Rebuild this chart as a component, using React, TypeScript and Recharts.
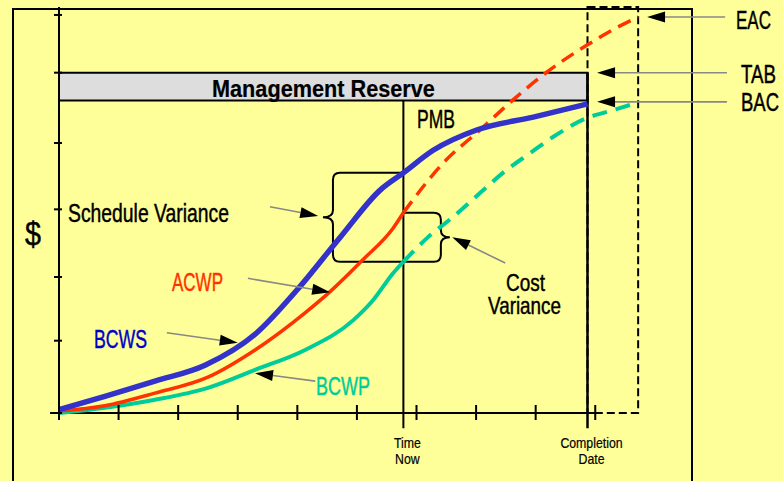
import { ComposedChart, Line, ReferenceArea, ReferenceLine, XAxis, YAxis } from "recharts";

type Pt = { t: number; v: number };

// time in reporting periods, value in $ (arbitrary units)
const TIME_NOW = 5.78;
const COMPLETION = 8.87;
const EAC_DATE = 9.72;
const Y_MAX = 6.12;

const BCWS: Pt[] = [
  { t: 0, v: 0.05 }, { t: 0.77, v: 0.25 }, { t: 1.61, v: 0.48 }, { t: 2.45, v: 0.72 },
  { t: 3.32, v: 1.21 }, { t: 3.99, v: 1.85 }, { t: 4.72, v: 2.65 }, { t: 5.39, v: 3.36 },
  { t: 5.78, v: 3.62 }, { t: 6.28, v: 3.96 }, { t: 7.02, v: 4.27 }, { t: 7.96, v: 4.46 },
  { t: 8.87, v: 4.66 },
];

const ACWP: Pt[] = [
  { t: 0, v: 0.03 }, { t: 0.77, v: 0.11 }, { t: 1.61, v: 0.3 }, { t: 2.5, v: 0.54 },
  { t: 3.29, v: 0.95 }, { t: 4.13, v: 1.51 }, { t: 4.55, v: 1.83 }, { t: 5.1, v: 2.31 },
  { t: 5.61, v: 2.79 }, { t: 5.78, v: 3.02 },
];

const ACWP_FORECAST: Pt[] = [
  { t: 5.78, v: 3.02 }, { t: 6.45, v: 3.77 }, { t: 7.07, v: 4.27 }, { t: 7.62, v: 4.72 },
  { t: 8.19, v: 5.14 }, { t: 8.87, v: 5.55 }, { t: 9.3, v: 5.78 }, { t: 9.72, v: 5.97 },
];

const BCWP: Pt[] = [
  { t: 0, v: 0 }, { t: 0.77, v: 0.08 }, { t: 1.61, v: 0.2 }, { t: 2.5, v: 0.38 },
  { t: 3.29, v: 0.65 }, { t: 4.13, v: 0.95 }, { t: 4.94, v: 1.4 }, { t: 5.27, v: 1.7 },
  { t: 5.61, v: 2.11 }, { t: 5.78, v: 2.28 },
];

const BCWP_FORECAST: Pt[] = [
  { t: 5.78, v: 2.28 }, { t: 6.18, v: 2.64 }, { t: 6.62, v: 2.96 }, { t: 7.07, v: 3.32 },
  { t: 7.45, v: 3.62 }, { t: 7.91, v: 3.92 }, { t: 8.29, v: 4.16 }, { t: 8.87, v: 4.45 },
  { t: 9.2, v: 4.54 }, { t: 9.72, v: 4.68 },
];

const TAB = 5.13;
const PMB_TOP = 4.71;
const BAC_MARK = 4.69;

const X_TICKS = [0, 1, 2, 3, 4, 5, 6, 7, 8, 9];
const Y_TICKS = [0, 1.09, 2.05, 3.07, 4.07, 5.13, 6];
const DATE_LABELS: Record<string, string[]> = {
  [TIME_NOW]: ["Time", "Now"],
  [COMPLETION]: ["Completion", "Date"],
};

const FONT = "'Liberation Sans', Arial, sans-serif";
const AXIS_DROP = -0.23;

const at = (s: Pt[], t: number) => s.find((p) => p.t === t)!.v;

let ctx: CanvasRenderingContext2D | null = null;
function measure(text: string, size: number, weight: string) {
  if (!ctx) ctx = document.createElement("canvas").getContext("2d");
  if (!ctx) return text.length * size * 0.55;
  ctx.font = `${weight} ${size}px ${FONT}`;
  return ctx.measureText(text).width;
}

function XTick({ x, y, payload }: any) {
  const lines = DATE_LABELS[String(payload.value)];
  if (lines) {
    return (
      <g fontFamily={FONT} fontSize={14} fill="#000" stroke="#000" strokeWidth={0.2}>
        {lines.map((s, i) => (
          <text key={s} transform={`translate(${x + 4},${y + 35 + i * 16}) scale(0.88,1)`} textAnchor="middle">
            {s}
          </text>
        ))}
      </g>
    );
  }
  return <line x1={x} x2={x} y1={y - 8} y2={y + 7} stroke="#000" strokeWidth={2} />;
}

function YTick({ x, y }: any) {
  return <line x1={x - 5} x2={x + 3} y1={y} y2={y} stroke="#000" strokeWidth={2} />;
}

function Arrow({ x1, y1, x2, y2 }: any) {
  const len = Math.hypot(x2 - x1, y2 - y1) || 1;
  const ux = (x2 - x1) / len;
  const uy = (y2 - y1) / len;
  const bx = x2 - ux * 18;
  const by = y2 - uy * 18;
  const px = -uy * 5.5;
  const py = ux * 5.5;
  return (
    <g>
      <line x1={x1} y1={y1} x2={bx} y2={by} stroke="#888" strokeWidth={1.6} />
      <polygon points={`${x2},${y2} ${bx + px},${by + py} ${bx - px},${by - py}`} fill="#000" />
    </g>
  );
}

function LeftBrace({ x, y, width, height }: any) {
  const xv = x + 10;
  const r = 7;
  const m = y + height / 2;
  const R = x + width;
  const B = y + height;
  const d = `M${R},${y} H${xv + r} Q${xv},${y} ${xv},${y + r} V${m - r} Q${xv},${m} ${x},${m} Q${xv},${m} ${xv},${m + r} V${B - r} Q${xv},${B} ${xv + r},${B} H${R}`;
  return <path d={d} fill="none" stroke="#000" strokeWidth={2} />;
}

function RightBrace({ x, y, width, height }: any) {
  const R = x + width;
  const xv = R - 9;
  const r = 7;
  const m = y + height / 2;
  const B = y + height;
  const d = `M${x},${y} H${xv - r} Q${xv},${y} ${xv},${y + r} V${m - r} Q${xv},${m} ${R},${m} Q${xv},${m} ${xv},${m + r} V${B - r} Q${xv},${B} ${xv - r},${B} H${x}`;
  return <path d={d} fill="none" stroke="#000" strokeWidth={2} />;
}

// narrow lettering as on the slide: squeeze each label to its measured width
function Note({ x, y, w, text, color = "#000", size = 25, weight = "normal" }: any) {
  const sx = w / measure(text, size, weight);
  return (
    <text
      transform={`translate(${x},${y}) scale(${sx.toFixed(3)},1)`}
      fill={color}
      stroke={color}
      strokeWidth={weight === "bold" ? 0.2 : 0.45}
      fontSize={size}
      fontWeight={weight}
      fontFamily={FONT}
    >
      {text}
    </text>
  );
}

export default function App() {
  const eac = ACWP_FORECAST[ACWP_FORECAST.length - 1].v;
  const bcwsNow = at(BCWS, TIME_NOW);
  const acwpNow = at(ACWP, TIME_NOW);
  const bcwpNow = at(BCWP, TIME_NOW);

  return (
    <div style={{ position: "absolute", left: 0, top: 0, width: 783, height: 481, background: "#FFFF99", overflow: "hidden" }}>
      <div
        style={{ position: "absolute", left: 12, top: 8, width: 681, height: 540, border: "2px solid #000", boxSizing: "border-box" }}
      />
      <div style={{ position: "absolute", left: 0, top: 0 }}>
        <ComposedChart width={783} height={481} margin={{ top: 7, right: 9, bottom: 0, left: 0 }}>
          <XAxis
            type="number"
            dataKey="t"
            domain={[0, 12]}
            ticks={[...X_TICKS, TIME_NOW, COMPLETION].sort((a, b) => a - b)}
            interval={0}
            axisLine={false}
            tickLine={false}
            tickSize={0}
            tickMargin={0}
            height={68}
            tick={<XTick />}
          />
          <YAxis
            type="number"
            domain={[0, Y_MAX]}
            ticks={Y_TICKS}
            interval={0}
            width={59}
            axisLine={{ stroke: "#000", strokeWidth: 2 }}
            tickLine={false}
            tickSize={0}
            tickMargin={0}
            tick={<YTick />}
          />

          <ReferenceArea x1={0} x2={COMPLETION} y1={PMB_TOP} y2={TAB} fill="#DDDDDD" fillOpacity={1} stroke="#000" strokeWidth={2} ifOverflow="visible" />
          <ReferenceArea x1={COMPLETION} x2={EAC_DATE} y1={0} y2={Y_MAX} fill="none" stroke="#000" strokeWidth={2} strokeDasharray="8 4" ifOverflow="visible" />

          <ReferenceLine segment={[{ x: -0.15, y: 0 }, { x: 9, y: 0 }]} stroke="#000" strokeWidth={2} ifOverflow="visible" />
          <ReferenceLine segment={[{ x: TIME_NOW, y: AXIS_DROP }, { x: TIME_NOW, y: PMB_TOP }]} stroke="#000" strokeWidth={2} ifOverflow="visible" />
          <ReferenceLine segment={[{ x: COMPLETION, y: AXIS_DROP }, { x: COMPLETION, y: TAB }]} stroke="#000" strokeWidth={2.5} ifOverflow="visible" />

          <ReferenceArea x1={4.43} x2={TIME_NOW} y1={bcwpNow} y2={bcwsNow} shape={LeftBrace} ifOverflow="visible" />
          <ReferenceArea x1={TIME_NOW} x2={6.56} y1={bcwpNow} y2={acwpNow} shape={RightBrace} ifOverflow="visible" />

          <Line data={BCWP} dataKey="v" type="monotone" stroke="#00CC99" strokeWidth={4} dot={false} isAnimationActive={false} />
          <Line data={BCWP_FORECAST} dataKey="v" type="monotone" stroke="#00CC99" strokeWidth={4} strokeDasharray="15 9" dot={false} isAnimationActive={false} />
          <Line data={ACWP} dataKey="v" type="monotone" stroke="#FF3300" strokeWidth={3.5} dot={false} isAnimationActive={false} />
          <Line data={ACWP_FORECAST} dataKey="v" type="monotone" stroke="#FF3300" strokeWidth={3.5} strokeDasharray="14 8" dot={false} isAnimationActive={false} />
          <Line data={BCWS} dataKey="v" type="monotone" stroke="#3333CC" strokeWidth={5.5} dot={false} isAnimationActive={false} />

          <ReferenceLine segment={[{ x: 11.18, y: eac }, { x: 9.87, y: eac }]} shape={Arrow} ifOverflow="visible" />
          <ReferenceLine segment={[{ x: 11.21, y: TAB }, { x: 9.03, y: TAB }]} shape={Arrow} ifOverflow="visible" />
          <ReferenceLine segment={[{ x: 11.21, y: BAC_MARK }, { x: 9.03, y: BAC_MARK }]} shape={Arrow} ifOverflow="visible" />
          <ReferenceLine segment={[{ x: 3.54, y: 3.11 }, { x: 4.35, y: 2.97 }]} shape={Arrow} ifOverflow="visible" />
          <ReferenceLine segment={[{ x: 3.17, y: 2.03 }, { x: 4.55, y: 1.82 }]} shape={Arrow} ifOverflow="visible" />
          <ReferenceLine segment={[{ x: 1.81, y: 1.21 }, { x: 3.0, y: 1.06 }]} shape={Arrow} ifOverflow="visible" />
          <ReferenceLine segment={[{ x: 4.3, y: 0.48 }, { x: 3.29, y: 0.6 }]} shape={Arrow} ifOverflow="visible" />
          <ReferenceLine segment={[{ x: 7.49, y: 2.26 }, { x: 6.6, y: 2.65 }]} shape={Arrow} ifOverflow="visible" />
        </ComposedChart>
      </div>
      <svg width={783} height={481} style={{ position: "absolute", left: 0, top: 0, pointerEvents: "none" }}>
        <Note x={212} y={97} w={223} text="Management Reserve" size={24} weight="bold" />
        <Note x={25} y={245} w={16} text="$" size={34} />
        <Note x={68} y={222} w={161} text="Schedule Variance" />
        <Note x={172} y={291} w={51} text="ACWP" color="#FF3300" />
        <Note x={94} y={348} w={53} text="BCWS" color="#0000CC" />
        <Note x={316} y={395} w={54} text="BCWP" color="#00CC99" />
        <Note x={417} y={128} w={38} text="PMB" />
        <Note x={506} y={291} w={39} text="Cost" size={24} />
        <Note x={488} y={314} w={73} text="Variance" size={24} />
        <Note x={736} y={29} w={35} text="EAC" />
        <Note x={741} y={83} w={35} text="TAB" />
        <Note x={741} y={111} w={38} text="BAC" />
      </svg>
    </div>
  );
}
